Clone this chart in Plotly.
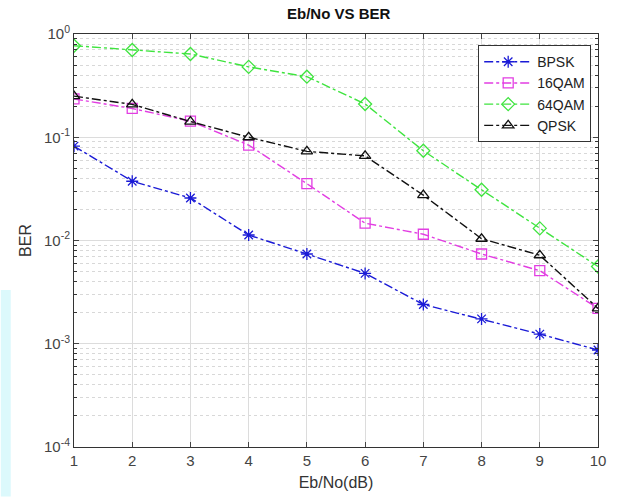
import plotly.graph_objects as go

snr_db = [1, 2, 3, 4, 5, 6, 7, 8, 9, 10]
ber_bpsk = [0.082, 0.0375, 0.0258, 0.0113, 0.0074, 0.0048, 0.0024, 0.00174, 0.00124, 0.00087]
ber_16qam = [0.235, 0.19, 0.143, 0.084, 0.0355, 0.0147, 0.0115, 0.0074, 0.0051, 0.0022]
ber_64qam = [0.77, 0.70, 0.64, 0.48, 0.386, 0.21, 0.074, 0.031, 0.0131, 0.0056]
ber_qpsk = [0.25, 0.208, 0.142, 0.1, 0.073, 0.066, 0.0275, 0.0104, 0.0072, 0.0022]

series = [
    ("BPSK", ber_bpsk, "#1a1ad6", "asterisk-open"),
    ("16QAM", ber_16qam, "#e23ee2", "square-open"),
    ("64QAM", ber_64qam, "#3fe43f", "diamond-open"),
    ("QPSK", ber_qpsk, "#111111", "triangle-up-open"),
]

y_tickvals = [1e-4, 1e-3, 1e-2, 1e-1, 1]
y_ticktext = ["10<sup>-4</sup>", "10<sup>-3</sup>", "10<sup>-2</sup>", "10<sup>-1</sup>", "10<sup>0</sup>"]

minor_vals = [m * 10 ** e for e in range(-4, 0) for m in range(2, 10)]

fig = go.Figure()
for name, ys, color, sym in series:
    fig.add_trace(go.Scatter(
        x=snr_db, y=ys, name=name, mode="lines+markers",
        line=dict(color=color, width=1.4, dash="dashdot"),
        marker=dict(symbol=sym, size=10, color=color, line=dict(color=color, width=1.3)),
    ))

font = "Liberation Sans, Arial, sans-serif"
fig.update_layout(
    width=618, height=502,
    margin=dict(l=74, r=14, t=34, b=55),
    paper_bgcolor="white", plot_bgcolor="white",
    font=dict(family=font, size=15, color="#333333"),
    title=dict(text="<b>Eb/No VS BER</b>", x=0.548, xanchor="center", y=0.972, yanchor="middle",
               font=dict(size=15, color="#111111")),
    showlegend=True,
    legend=dict(x=0.987, xanchor="right", y=0.973, yanchor="top",
                bordercolor="#333333", borderwidth=1, bgcolor="white",
                font=dict(size=14, color="#222222"), itemwidth=48, tracegroupgap=0),
    shapes=[dict(type="rect", xref="paper", yref="paper", x0=-74/530, x1=-64/530,
                 y0=-0.12, y1=0.38, fillcolor="#dcf9fc", line=dict(width=0), layer="below")],
)
fig.update_xaxes(
    range=[1, 10], tickvals=snr_db, ticks="inside", ticklen=5,
    showline=True, linecolor="#333333", linewidth=1, mirror="ticks",
    showgrid=True, gridcolor="#dcdcdc", gridwidth=1, zeroline=False,
    title=dict(text="Eb/No(dB)", font=dict(size=16, color="#333333"), standoff=8),
    tickfont=dict(size=15, color="#444444"),
)
fig.update_yaxes(
    type="log", range=[-4, 0], tickvals=y_tickvals, ticktext=y_ticktext,
    ticks="inside", ticklen=5,
    showline=True, linecolor="#333333", linewidth=1, mirror="ticks",
    showgrid=True, gridcolor="#dcdcdc", gridwidth=1, zeroline=False,
    minor=dict(tickvals=minor_vals, ticks="inside", ticklen=3, tickcolor="#333333",
               showgrid=True, gridcolor="#d8d8d8", griddash="dot", gridwidth=1),
    title=dict(text="BER", font=dict(size=16, color="#333333"), standoff=8),
    tickfont=dict(size=15, color="#444444"),
)

fig.write_html("out.html")
